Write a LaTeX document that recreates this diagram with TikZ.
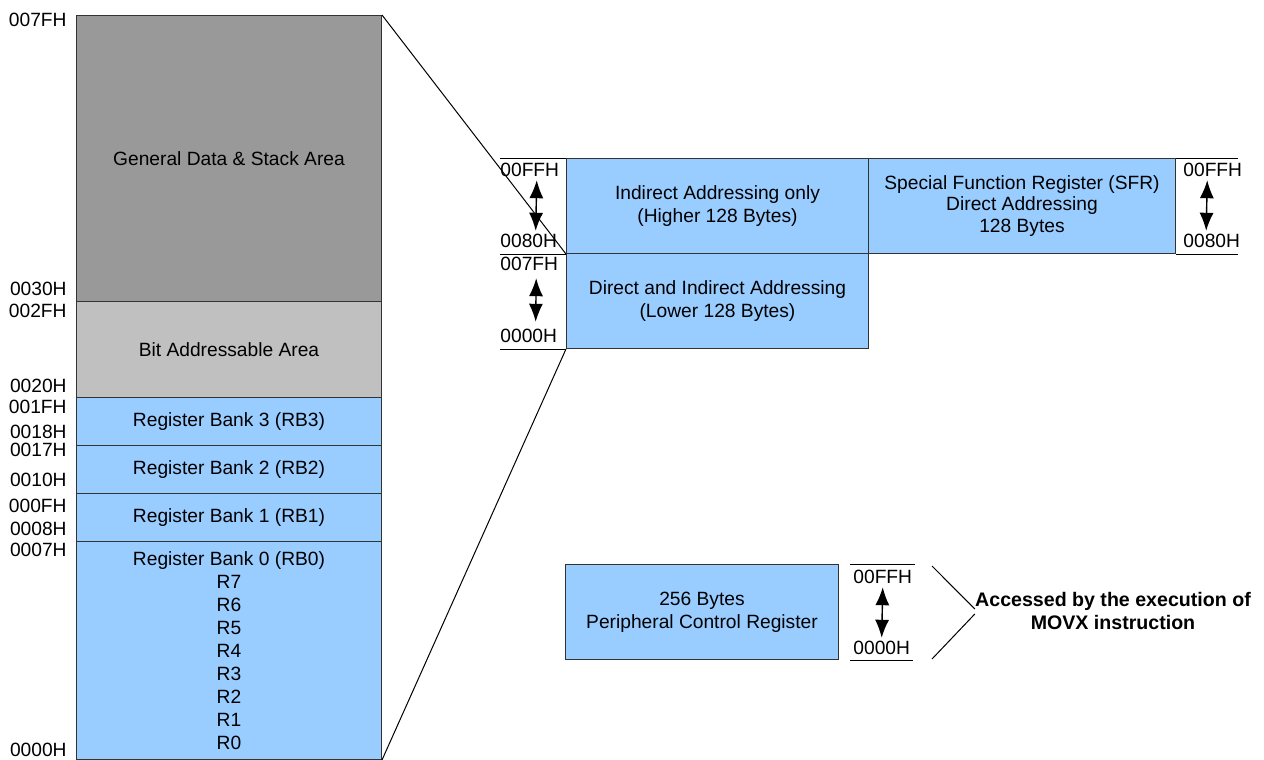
\documentclass[tikz,border=0pt]{standalone}
\usepackage{fontspec}
\setmainfont{Liberation Sans}
\usetikzlibrary{arrows.meta}
\definecolor{stackgray}{HTML}{999999}
\definecolor{bitgray}{HTML}{C0C0C0}
\definecolor{regblue}{HTML}{99CCFF}

\begin{document}
\begin{tikzpicture}[x=0.5pt,y=-0.5pt,
every node/.style={font=\fontsize{9.6}{11.5}\selectfont},
area/.style={draw=black!80,line width=0.5pt,anchor=north west,inner sep=0pt,align=center},
addr/.style={inner sep=1.5pt},
rule/.style={line width=0.5pt},
dbl/.style={{Latex[length=9pt,width=7pt]}-{Latex[length=9pt,width=7pt]},line width=0.7pt}]
\useasboundingbox (0,0) rectangle (1264,760);

% internal data memory
\node[area,fill=stackgray,minimum width=152.5pt,minimum height=143pt] (gen) at (76,15) {General Data \& Stack Area};
\node[area,fill=bitgray,minimum width=152.5pt,minimum height=48pt] (bit) at (76,301) {Bit Addressable Area};
\node[area,fill=regblue,minimum width=152.5pt,minimum height=24pt] (rb3) at (76,397) {Register Bank 3 (RB3)};
\node[area,fill=regblue,minimum width=152.5pt,minimum height=24pt] (rb2) at (76,445) {Register Bank 2 (RB2)};
\node[area,fill=regblue,minimum width=152.5pt,minimum height=24pt] (rb1) at (76,493) {Register Bank 1 (RB1)};
\node[area,fill=regblue,minimum width=152.5pt,minimum height=109pt] (rb0) at (76,541)
  {Register Bank 0 (RB0)\\R7\\R6\\R5\\R4\\R3\\R2\\R1\\R0};

\node[addr,anchor=east] (a7f) at (70,20) {007FH};
\node[addr,anchor=east] (a30) at (70,289) {0030H};
\node[addr,anchor=east] (a2f) at (70,311) {002FH};
\node[addr,anchor=east] (a20) at (70,386) {0020H};
\node[addr,anchor=east] (a1f) at (70,407) {001FH};
\node[addr,anchor=east] (a18) at (70,432) {0018H};
\node[addr,anchor=east] (a17) at (70,450) {0017H};
\node[addr,anchor=east] (a10) at (70,480) {0010H};
\node[addr,anchor=east] (a0f) at (70,506) {000FH};
\node[addr,anchor=east] (a08) at (70,529) {0008H};
\node[addr,anchor=east] (a07) at (70,550) {0007H};
\node[addr,anchor=east] (a00) at (70,750) {0000H};

% 256 byte ram and sfr
\node[area,fill=regblue,minimum width=151pt,minimum height=47.5pt] (hi) at (566,158) {Indirect Addressing only\\(Higher 128 Bytes)};
\node[area,fill=regblue,minimum width=151pt,minimum height=47.5pt] (lo) at (566,253) {Direct and Indirect Addressing\\(Lower 128 Bytes)};
\node[area,fill=regblue,minimum width=153.5pt,minimum height=47.5pt,font=\fontsize{9.6}{10.8}\selectfont] (sfr) at (868,158)
  {Special Function Register (SFR)\\Direct Addressing\\128 Bytes};

\node[addr,anchor=west] (ffa) at (497,170) {00FFH};
\node[addr,anchor=west] (h80a) at (497,241) {0080H};
\node[addr,anchor=west] (h7fa) at (497,264) {007FH};
\node[addr,anchor=west] (h00a) at (497,336) {0000H};
\node[addr,anchor=west] (ffc) at (1180,170) {00FFH};
\node[addr,anchor=west] (h80c) at (1180,241) {0080H};

\draw[rule] (hi.north west) -- ++(-66,0);
\draw[rule] (hi.south west) -- ++(-66,0);
\draw[rule] (lo.south west) -- ++(-66,0);
\draw[rule] (sfr.north east) -- ++(62,0);
\draw[rule] (sfr.south east) -- ++(62,0);
\draw[dbl] ([xshift=3.5pt]ffa.south) -- ([xshift=3.5pt]h80a.north);
\draw[dbl] ([xshift=3.5pt,yshift=-2pt]h7fa.south) -- ([xshift=3.5pt,yshift=2pt]h00a.north);
\draw[dbl] ([xshift=-2.75pt]ffc.south) -- ([xshift=-2.75pt]h80c.north);

\draw[rule] (gen.north east) -- (hi.south west);
\draw[rule] (rb0.south east) -- (lo.south west);

% external data memory
\node[area,fill=regblue,minimum width=136.5pt,minimum height=47.5pt] (pcr) at (565,564) {256 Bytes\\Peripheral Control Register};
\node[addr,anchor=west] (ffd) at (850,577) {00FFH};
\node[addr,anchor=west] (h00d) at (850,648) {0000H};
\draw[rule] (ffd.west |- pcr.north) -- (ffd.east |- pcr.north);
\draw[rule] (h00d.west |- pcr.south) -- (h00d.east |- pcr.south);
\draw[dbl] (ffd.south) -- (h00d.north);

\node[inner sep=0pt,align=center,font=\bfseries\fontsize{9.8}{11.5}\selectfont] (acc) at (1113,611)
  {Accessed by the execution of\\MOVX instruction};
\coordinate (u1) at (932,566);
\coordinate (u2) at (932,659);
\draw[rule] (u1) -- ([yshift=1pt]acc.west);
\draw[rule] ([yshift=-1.5pt]acc.west) -- (u2);
\end{tikzpicture}
\end{document}
